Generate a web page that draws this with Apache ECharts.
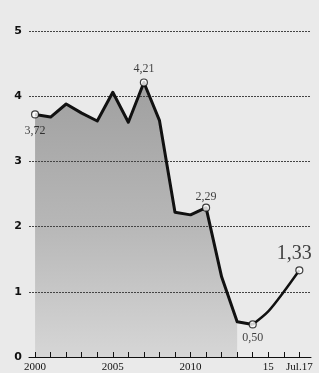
<!DOCTYPE html>
<html>
<head>
<meta charset="utf-8">
<script src="https://cdn.jsdelivr.net/npm/echarts@6/dist/echarts.min.js"></script>
<style>
  html, body { margin: 0; padding: 0; background: #eaeaea; }
  #main { width: 319px; height: 373px; }
</style>
</head>
<body>
<div id="main"></div>
<script>
// 数据
var years = [2000, 2001, 2002, 2003, 2004, 2005, 2006, 2007, 2008, 2009, 2010, 2011, 2012, 2013, 2014, 2015, 2016, 2017]
var values = [3.72, 3.68, 3.88, 3.74, 3.62, 4.06, 3.60, 4.21, 3.63, 2.22, 2.18, 2.29, 1.23, 0.54, 0.50, 0.70, 1.00, 1.33]
var markedYears = [2000, 2007, 2011, 2014, 2017]
var tickYears = [2000, 2001, 2002, 2003, 2004, 2005, 2006, 2007, 2008, 2009, 2010, 2011, 2012, 2013, 2014, 2015, 2016, 2017]
var labelYears = [2000, 2005, 2010, 2015, 2017]
var labelTexts = ['2000', '2005', '2010', '15', 'Jul.17']
var fillUntil = 2013

var lineData = years.map(function (y, i) { return [y, values[i]] })
var areaData = lineData.filter(function (d) { return d[0] <= fillUntil })
var headData = lineData.filter(function (d) { return d[0] <= 2014 })
var tailData = lineData.filter(function (d) { return d[0] >= 2014 })

// 标注点的位置
var labelPos = {
  2000: { position: 'bottom', distance: 6 },
  2007: { position: 'top', distance: 4 },
  2011: { position: 'top', distance: 1 },
  2014: { position: 'bottom', distance: 3 },
  2017: { position: 'top', distance: 2, offset: [-5, 0], fontSize: 20 }
}

var markData = markedYears.map(function (y) {
  var v = values[years.indexOf(y)]
  var p = labelPos[y]
  return {
    value: [y, v],
    label: {
      show: true,
      position: p.position,
      distance: p.distance,
      offset: p.offset || [0, 0],
      fontSize: p.fontSize || 12,
      formatter: String(v.toFixed(2)).replace('.', ',')
    }
  }
})

var myChart = echarts.init(document.getElementById('main'))

var option = {
  backgroundColor: '#eaeaea',
  animation: false,
  grid: { left: 29, right: 8, top: 31, bottom: 16 },
  xAxis: {
    type: 'value',
    min: 1999.61,
    max: 2017.75,
    splitLine: { show: false },
    axisLine: { show: true, lineStyle: { color: '#111', width: 1 } },
    axisTick: {
      show: true,
      inside: true,
      length: 5,
      customValues: tickYears,
      lineStyle: { color: '#111', width: 1 }
    },
    axisLabel: {
      customValues: labelYears,
      margin: 5,
      color: '#111',
      fontFamily: 'Liberation Serif',
      fontSize: 11,
      formatter: function (v) {
        var i = labelYears.indexOf(Math.round(v))
        return i >= 0 ? labelTexts[i] : ''
      }
    }
  },
  yAxis: {
    type: 'value',
    min: 0,
    max: 5,
    interval: 1,
    axisLine: { show: false },
    axisTick: { show: false },
    axisLabel: {
      margin: 7,
      color: '#111',
      fontFamily: 'DejaVu Sans',
      fontWeight: 'bold',
      fontSize: 11
    },
    splitLine: {
      show: true,
      lineStyle: { color: '#444', width: 1, type: [2, 1] }
    }
  },
  series: [
    {
      type: 'line',
      data: areaData,
      z: -1,
      symbol: 'none',
      silent: true,
      lineStyle: { width: 0 },
      areaStyle: {
        opacity: 1,
        color: new echarts.graphic.LinearGradient(0, 0, 0, 1, [
          { offset: 0, color: '#a0a0a0' },
          { offset: 0.5, color: '#b6b6b6' },
          { offset: 1, color: '#d6d6d6' }
        ])
      }
    },
    {
      type: 'line',
      data: headData,
      symbol: 'none',
      z: 3,
      lineStyle: { color: '#111', width: 3, join: 'round' }
    },
    {
      type: 'line',
      data: tailData,
      symbol: 'none',
      smooth: 0.3,
      z: 3,
      lineStyle: { color: '#111', width: 2.5 }
    },
    {
      type: 'scatter',
      data: markData,
      z: 4,
      symbol: 'circle',
      symbolSize: 7,
      itemStyle: { color: '#fff', borderColor: '#111', borderWidth: 1.2 },
      label: {
        color: '#111',
        fontFamily: 'Liberation Serif'
      }
    }
  ]
}

myChart.setOption(option)
window.addEventListener('resize', function () {
  myChart.resize()
})
</script>
</body>
</html>
